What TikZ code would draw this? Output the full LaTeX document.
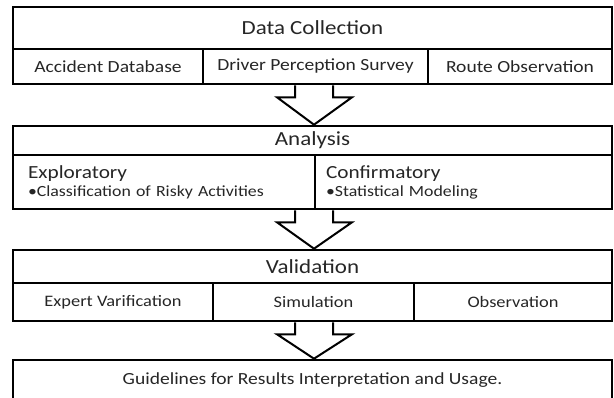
\documentclass[tikz,border=0pt]{standalone}
\usepackage{fontspec}
\setmainfont{Carlito}[FakeStretch=1.15]
\usetikzlibrary{calc}
\newcommand\headfont{\fontsize{20}{24}\selectfont}
\newcommand\cellfont{\fontsize{17}{20}\selectfont}
\newcommand\valfont{\fontsize{16}{19}\selectfont}
\newcommand\subhead{\fontsize{18.5}{22}\selectfont}
\newcommand\itemfont{\fontsize{15.5}{18}\selectfont}
\tikzset{box/.style={draw, line width=1.8pt, inner sep=0pt, text=black!85}}
\tikzset{frame/.style={draw, line width=2.6pt, inner sep=0pt, minimum width=599pt, text=black!85}}
\tikzset{hollow/.style={draw, line width=2pt, line join=miter}}

\begin{document}
\begin{tikzpicture}[x=1pt,y=1pt]%
    \path [use as bounding box] (0,0) rectangle (614,398);
    \path (312.5,370) node [box, minimum width=599pt, minimum height=42pt, font=\headfont] (dctitle) {Data Collection};
    \path (108,331.5) node [box, minimum width=190pt, minimum height=35pt, font=\cellfont] (dc1) {Accident Database};
    \path (315.5,331.5) node [box, minimum width=225pt, minimum height=35pt, font=\cellfont] (dc2) {Driver Perception Survey};
    \path (520,331.5) node [box, minimum width=184pt, minimum height=35pt, font=\cellfont] (dc3) {Route Observation};
    \path (312.5,352.5) node [frame, minimum height=77pt] (dc) {};
    \path (312.5,257.5) node [box, minimum width=599pt, minimum height=29pt, font=\headfont] (antitle) {Analysis};
    \path (164,216) node [box, minimum width=302pt, minimum height=54pt, inner xsep=15pt, text width=272pt, align=left, font=\itemfont] (an1) {{\subhead Exploratory}\\•Classification of Risky Activities};
    \path (463.5,216) node [box, minimum width=297pt, minimum height=54pt, inner xsep=11pt, text width=275pt, align=left, font=\itemfont] (an2) {{\subhead Confirmatory}\\•Statistical Modeling};
    \path (312.5,230.5) node [frame, minimum height=83pt] (an) {};
    \path (312.5,131.5) node [box, minimum width=599pt, minimum height=33pt, font=\headfont] (vatitle) {Validation};
    \path (113,96) node [box, minimum width=200pt, minimum height=38pt, font=\valfont] (va1) {Expert Varification};
    \path (313.5,96) node [box, minimum width=201pt, minimum height=38pt, font=\valfont] (va2) {Simulation};
    \path (513,96) node [box, minimum width=198pt, minimum height=38pt, font=\valfont] (va3) {Observation};
    \path (312.5,112.5) node [frame, minimum height=71pt] (va) {};
    \path (312.5,15) node [frame, minimum height=46pt, text height=12pt, text depth=9.5pt, font=\cellfont] (gl) {Guidelines for Results Interpretation and Usage.};
    \foreach \a/\b in {dc/an, an/va, va/gl} {
        \path [hollow] ($(\a.south)+(-17.5,0)$) -- ++(0,-12) -- ++(-18,0) -- ($(\b.north)+(1.5,0)$) -- ($(\a.south)+(39.5,-12)$) -- ++(-19,0) -- ++(0,12);
    }
\end{tikzpicture}
\end{document}
